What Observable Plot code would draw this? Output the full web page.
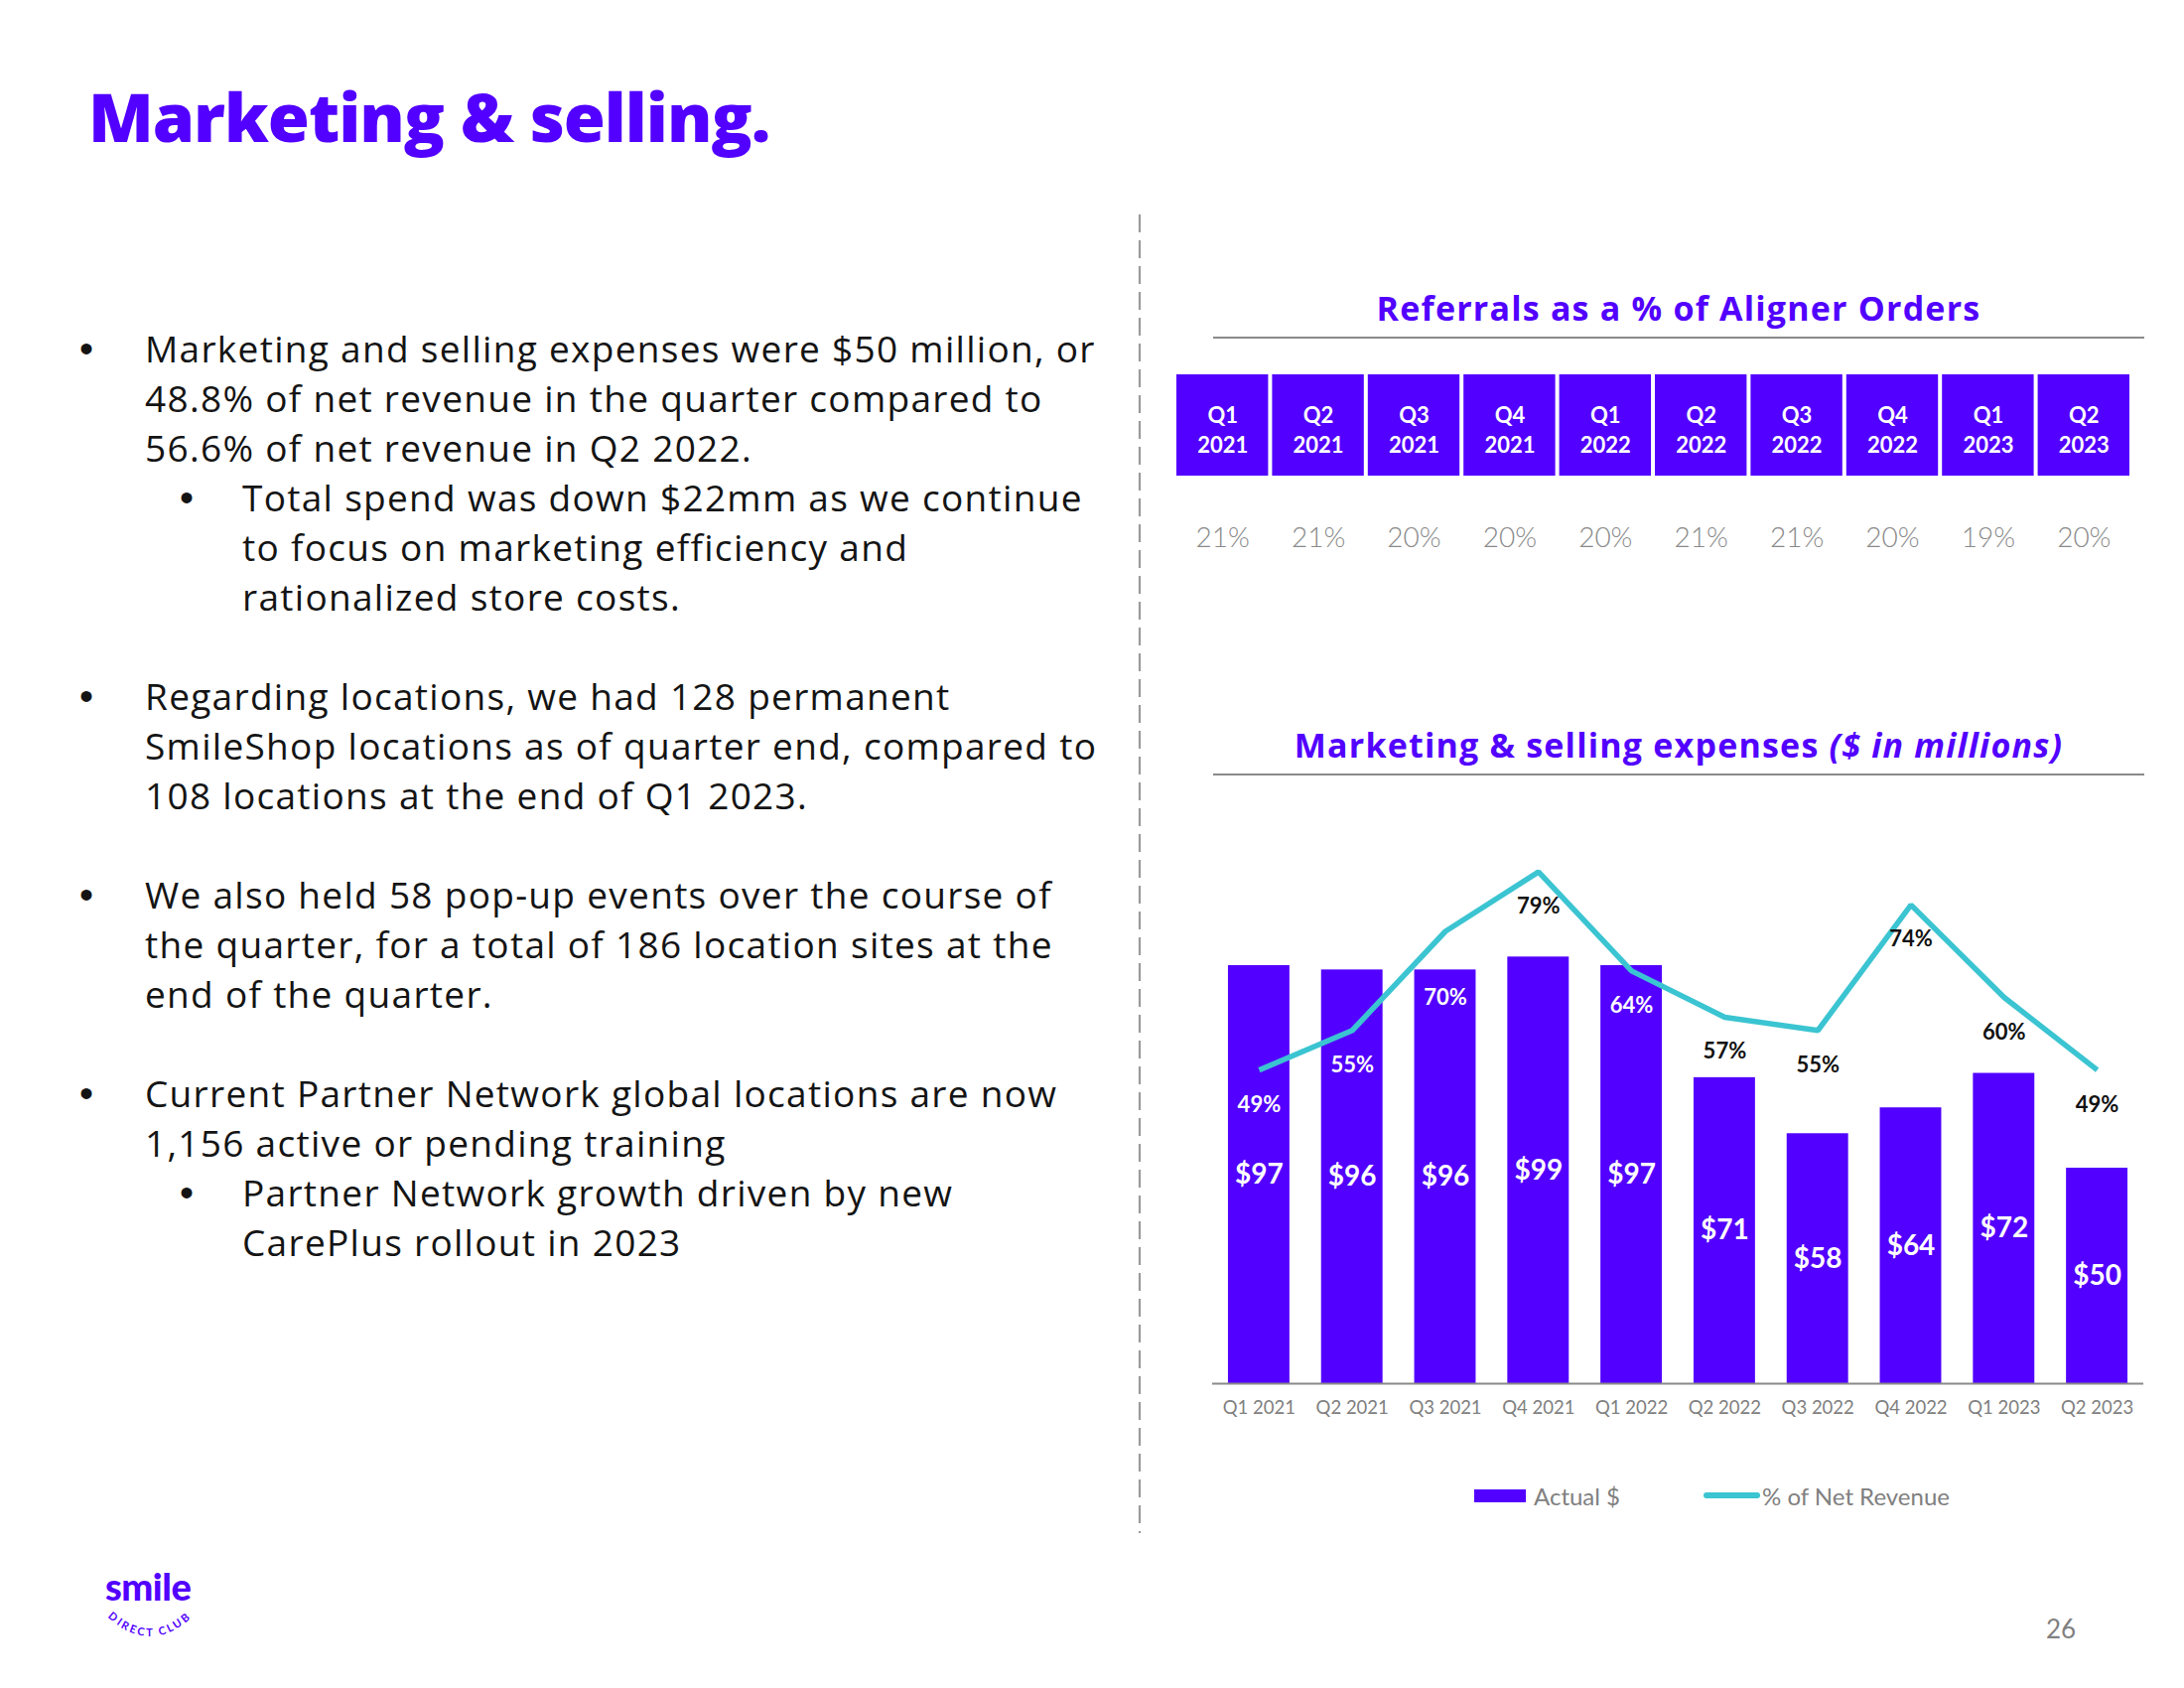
<!DOCTYPE html>
<html>
<head>
<meta charset="utf-8">
<script src="https://cdn.jsdelivr.net/npm/d3@7"></script>
<script src="https://cdn.jsdelivr.net/npm/@observablehq/plot@0.6"></script>
<style>
  html, body { margin: 0; padding: 0; background: #fff; }
  #page { position: relative; width: 2200px; height: 1700px; overflow: hidden; font-family: Lato, "Noto Sans", sans-serif; background: #fff; }
  #page > * { position: absolute; }
  .bl { font-family: "Open Sans", Lato, sans-serif; font-size: 37px; line-height: 50px; letter-spacing: 1.3px; color: #141414; white-space: nowrap; }
  .dot { font-family: "Liberation Sans", Arial, sans-serif; font-size: 40px; line-height: 50px; color: #141414; }
  .hd { font-family: "Open Sans", Lato, sans-serif; font-size: 34px; line-height: 40px; font-weight: 700; letter-spacing: 1.2px; color: #5200ff; white-space: nowrap; text-align: center; width: 938px; }
  .rule { height: 2px; background: #8a8a8a; width: 938px; }
</style>
</head>
<body>
<div id="page"></div>
<script>
// ---------------- data ----------------
const quarters = ["Q1 2021", "Q2 2021", "Q3 2021", "Q4 2021", "Q1 2022", "Q2 2022", "Q3 2022", "Q4 2022", "Q1 2023", "Q2 2023"];
const referralPct = [21, 21, 20, 20, 20, 21, 21, 20, 19, 20];
const spendUSD = [97, 96, 96, 99, 97, 71, 58, 64, 72, 50];
const pctNetRevenue = [49, 55, 70, 79, 64, 57, 55, 74, 60, 49];

const pageTitle = "Marketing & selling.";
const referralTitle = "Referrals as a % of Aligner Orders";
const expenseTitle = "Marketing & selling expenses ";
const expenseTitleUnit = "($ in millions)";
const legendLabels = ["Actual $", "% of Net Revenue"];
const pageNumber = "26";

const bulletBlocks = [
  {level: 0, lines: ["Marketing and selling expenses were $50 million, or", "48.8% of net revenue in the quarter compared to", "56.6% of net revenue in Q2 2022."]},
  {level: 1, lines: ["Total spend was down $22mm as we continue", "to focus on marketing efficiency and", "rationalized store costs."]},
  {gap: true},
  {level: 0, lines: ["Regarding locations, we had 128 permanent", "SmileShop locations as of quarter end, compared to", "108 locations at the end of Q1 2023."]},
  {gap: true},
  {level: 0, lines: ["We also held 58 pop-up events over the course of", "the quarter, for a total of 186 location sites at the", "end of the quarter."]},
  {gap: true},
  {level: 0, lines: ["Current Partner Network global locations are now", "1,156 active or pending training"]},
  {level: 1, lines: ["Partner Network growth driven by new", "CarePlus rollout in 2023"]}
];

// ---------------- styling ----------------
const PURPLE = "#5200ff";
const TEAL = "#3bc4d1";
const GRAY = "#808080";
const FONT = "Lato, 'Noto Sans', sans-serif";

const page = document.getElementById("page");
function put(el, left, top) { el.style.left = left + "px"; el.style.top = top + "px"; page.appendChild(el); return el; }
function div(text, cls, left, top, css = {}) {
  const d = document.createElement("div");
  if (cls) d.className = cls;
  if (text != null) d.textContent = text;
  Object.assign(d.style, css);
  return put(d, left, top);
}

// ---------------- left side text ----------------
div(pageTitle, null, 89, 72, {fontFamily: "'Open Sans', Lato, sans-serif", fontSize: "68px", lineHeight: "90px", fontWeight: "800", color: PURPLE, whiteSpace: "nowrap", letterSpacing: "-1px"});

let baseline = 365;
for (const b of bulletBlocks) {
  if (b.gap) { baseline += 50; continue; }
  b.lines.forEach((ln, i) => {
    const top = baseline - 39;
    if (i === 0) div("•", "dot", b.level ? 181 : 80, top);
    div(ln, "bl", b.level ? 244 : 146, top);
    baseline += 50;
  });
}

// dashed divider
const NS = "http://www.w3.org/2000/svg";
const divSvg = document.createElementNS(NS, "svg");
divSvg.setAttribute("width", 6); divSvg.setAttribute("height", 1330);
divSvg.innerHTML = `<line x1="3" x2="3" y1="0" y2="1328" stroke="#9a9a9a" stroke-width="2.2" stroke-dasharray="18 8"/>`;
put(divSvg, 1145, 216);

// logo
div("smile", null, 106, 1574, {fontSize: "38px", lineHeight: "46px", fontWeight: "900", color: PURPLE, letterSpacing: "-0.5px"});
const logo = document.createElementNS(NS, "svg");
logo.setAttribute("width", 110); logo.setAttribute("height", 46);
logo.innerHTML = `<defs><path id="arc" d="M4,4 Q55,60 106,4" fill="none"/></defs>
<text font-family="${FONT}" font-size="11" font-weight="700" fill="${PURPLE}" letter-spacing="2.4"><textPath href="#arc" startOffset="50%" text-anchor="middle">DIRECT CLUB</textPath></text>`;
put(logo, 96, 1616);

div(pageNumber, null, 2061, 1623, {fontSize: "26px", lineHeight: "34px", color: GRAY});

// ---------------- headings ----------------
div(referralTitle, "hd", 1222, 290);
div(null, "rule", 1222, 339);
const h2 = div(expenseTitle, "hd", 1222, 730);
const it = document.createElement("span"); it.textContent = expenseTitleUnit; it.style.fontStyle = "italic"; h2.appendChild(it);
div(null, "rule", 1222, 779);

// ---------------- referral boxes (Plot) ----------------
const refRows = quarters.map((q, i) => ({q, pct: referralPct[i]}));
const REF_W = 964;
const refX = {type: "band", domain: quarters, padding: 0, round: false, axis: null};
const boxes = Plot.plot({
  width: REF_W, height: 102, margin: 0,
  x: refX,
  style: {fontFamily: FONT, background: "transparent", overflow: "visible"},
  marks: [
    Plot.cell(refRows, {x: "q", fill: PURPLE, insetLeft: 2, insetRight: 2}),
    Plot.text(refRows, {x: "q", text: d => d.q.replace(" ", "\n"), fill: "white", fontWeight: 700, fontSize: 22, lineHeight: 1.38, frameAnchor: "middle", dy: 3})
  ]
});
put(boxes, 1183, 377);

const refPct = Plot.plot({
  width: REF_W, height: 44, margin: 0,
  x: refX,
  style: {fontFamily: FONT, background: "transparent", overflow: "visible"},
  marks: [
    Plot.text(refRows, {x: "q", text: d => d.pct + "%", fill: "#8a8a8a", fontSize: 28, fontWeight: 300, frameAnchor: "middle"})
  ]
});
put(refPct, 1183, 520);

// ---------------- bars + line (two overlaid Plots) ----------------
const rows = quarters.map((q, i) => ({q, spend: spendUSD[i], pct: pctNetRevenue[i]}));
const CW = 938, CH = 620, BAR_MB = 47, LINE_MB = 37;
const barRange = CH - BAR_MB, lineRange = CH - LINE_MB;
const barDomain = [0, barRange / 4.34];
const pctDomain = [0, lineRange / 6.65];
const chartX = {type: "band", domain: quarters, paddingInner: 0.34, paddingOuter: 0.17, round: false};

function mkScale(domain, range) {
  try { const s = Plot.scale({y: {domain, range}}); return {apply: v => s.apply(v), invert: v => s.invert(v)}; }
  catch (e) { const s = d3.scaleLinear(domain, range); return {apply: s, invert: s.invert}; }
}
const yB = mkScale(barDomain, [barRange, 0]);
const yP = mkScale(pctDomain, [lineRange, 0]);

const labels = rows.map(d => {
  let ly = yP.apply(d.pct) + 35;
  const top = yB.apply(d.spend);
  if (ly - 13 < top && ly + 13 > top) ly = top + 28;
  return {...d, labelPct: yP.invert(ly), inside: ly > top};
});

const bars = Plot.plot({
  width: CW, height: CH, marginLeft: 0, marginRight: 0, marginTop: 0, marginBottom: BAR_MB,
  x: {...chartX, label: null, tickSize: 0, tickPadding: 17},
  y: {domain: barDomain, axis: null},
  style: {fontFamily: FONT, fontSize: "18.5px", color: GRAY, background: "transparent", overflow: "visible"},
  marks: [
    Plot.barY(rows, {x: "q", y: "spend", fill: PURPLE}),
    Plot.ruleY([0], {stroke: "#8a8a8a", strokeWidth: 2.2}),
    Plot.text(rows, {x: "q", y: d => d.spend / 2, text: d => "$" + d.spend, fill: "white", fontWeight: 700, fontSize: 28})
  ]
});
put(bars, 1221, 820);

const line = Plot.plot({
  width: CW, height: CH, marginLeft: 0, marginRight: 0, marginTop: 0, marginBottom: LINE_MB,
  x: {...chartX, axis: null},
  y: {domain: pctDomain, axis: null},
  style: {fontFamily: FONT, background: "transparent", overflow: "visible"},
  marks: [
    Plot.lineY(rows, {x: "q", y: "pct", stroke: TEAL, strokeWidth: 5.5, strokeLinejoin: "miter", strokeLinecap: "butt"}),
    Plot.text(labels.filter(d => d.inside), {x: "q", y: "labelPct", text: d => d.pct + "%", fill: "white", fontWeight: 700, fontSize: 22}),
    Plot.text(labels.filter(d => !d.inside), {x: "q", y: "labelPct", text: d => d.pct + "%", fill: "#111", fontWeight: 700, fontSize: 22})
  ]
});
put(line, 1221, 820);

// ---------------- legend ----------------
div(null, null, 1485, 1500, {width: "52px", height: "13px", background: PURPLE});
div(legendLabels[0], null, 1545, 1490, {fontSize: "24px", lineHeight: "34px", color: GRAY, whiteSpace: "nowrap"});
div(null, null, 1716, 1503, {width: "57px", height: "6px", background: TEAL, borderRadius: "3px"});
div(legendLabels[1], null, 1775, 1490, {fontSize: "24px", lineHeight: "34px", color: GRAY, whiteSpace: "nowrap"});
</script>
</body>
</html>
